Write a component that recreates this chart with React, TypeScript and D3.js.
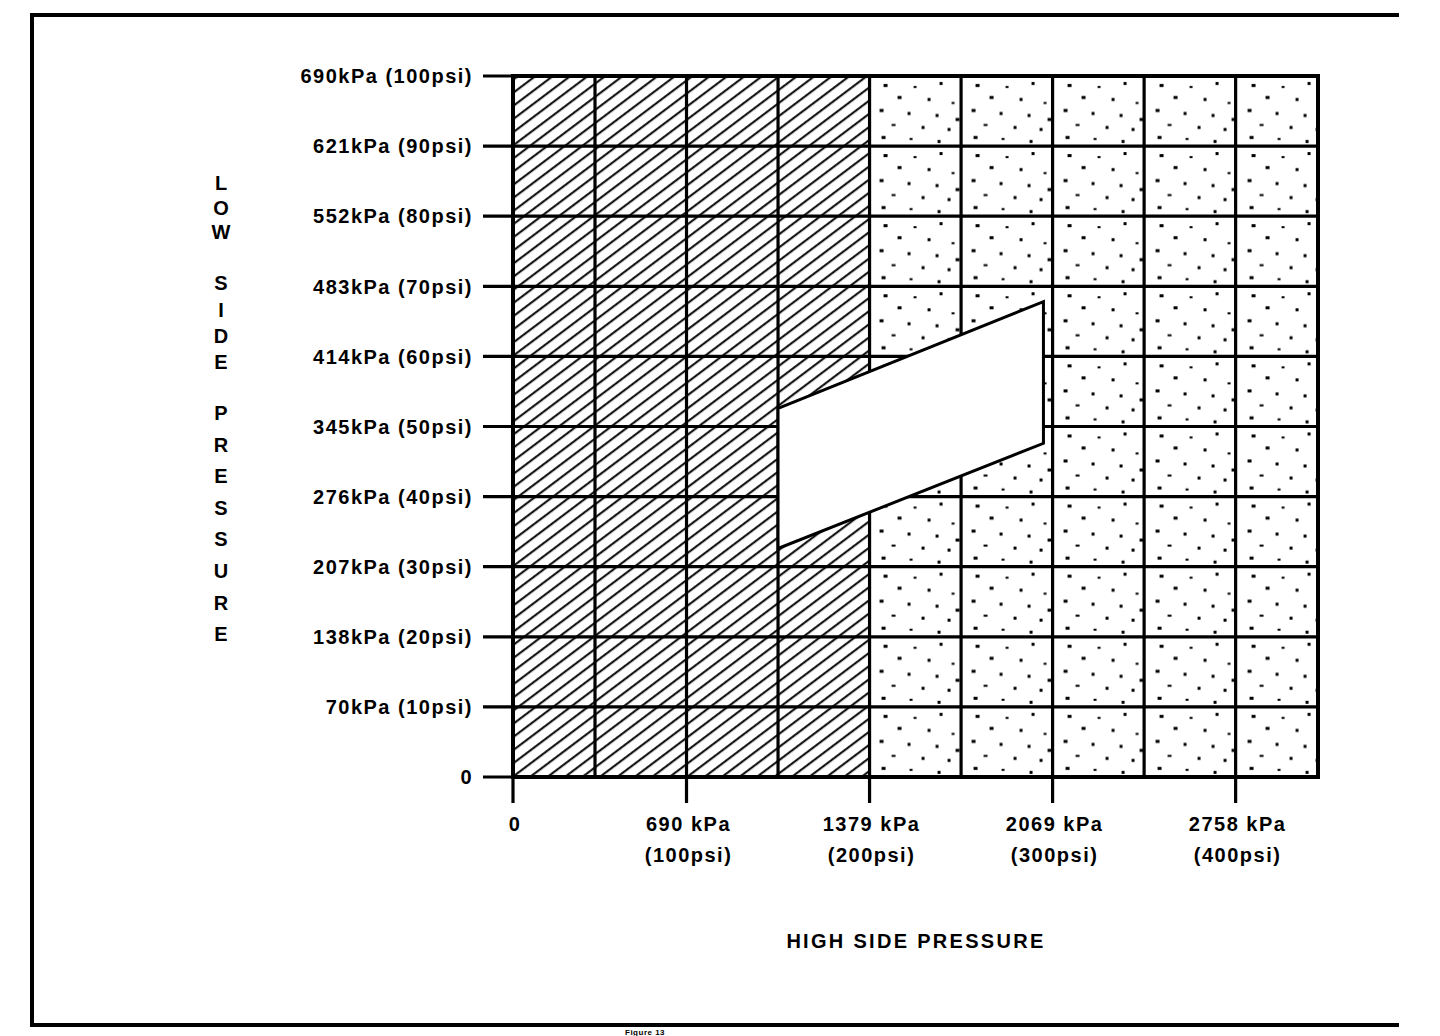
import React, { useRef, useEffect } from 'react'
import * as d3 from 'd3'

// low side ticks (psi) and their labels
const yTicksPsi = [0, 10, 20, 30, 40, 50, 60, 70, 80, 90, 100]
const yTickLabels = [
    '0',
    '70kPa (10psi)',
    '138kPa (20psi)',
    '207kPa (30psi)',
    '276kPa (40psi)',
    '345kPa (50psi)',
    '414kPa (60psi)',
    '483kPa (70psi)',
    '552kPa (80psi)',
    '621kPa (90psi)',
    '690kPa (100psi)',
]

// high side ticks (psi) and labels
const xTicksPsi = [0, 100, 200, 300, 400]
const xTickKpa = ['0', '690 kPa', '1379 kPa', '2069 kPa', '2758 kPa']
const xTickPsiLabels = ['', '(100psi)', '(200psi)', '(300psi)', '(400psi)']

// vertical grid every 50 psi, plot ends a bit past 440
const xGridPsi = [0, 50, 100, 150, 200, 250, 300, 350, 400]
const xMaxPsi = 445
const yMaxPsi = 100

// zones
const hatchZone: [number, number] = [0, 200]
const dotZone: [number, number] = [200, xMaxPsi]
// normal operating band: [high side psi, low side psi]
const normalBand: [number, number][] = [
    [150, 52.6],
    [295, 67.8],
    [295, 47.6],
    [150, 32.6],
]

const yAxisWords = ['LOW', 'SIDE', 'PRESSURE']
const xAxisTitle = 'HIGH SIDE PRESSURE'
const footer = 'Figure 13'

const W = 1440
const H = 1036

const Chart: React.FC = () => {
    const svgRef = useRef<SVGSVGElement>(null)

    useEffect(() => {
        if (!svgRef.current) return
        const svg = d3.select(svgRef.current)
        svg.selectAll('*').remove()

        // the printed grid is a little uneven: first column is narrower
        const x = d3.scaleLinear().domain([0, 50, xMaxPsi]).range([513, 595, 1318])
        const y = d3.scaleLinear().domain([0, yMaxPsi]).range([777, 76])

        const font = "'Liberation Sans', Arial, sans-serif"

        // patterns
        const defs = svg.append('defs')
        const hatch = defs
            .append('pattern')
            .attr('id', 'hatch')
            .attr('patternUnits', 'userSpaceOnUse')
            .attr('width', 20)
            .attr('height', 10.5)
            .attr('patternTransform', 'rotate(-37)')
        hatch
            .append('line')
            .attr('x1', 0)
            .attr('x2', 20)
            .attr('y1', 5)
            .attr('y2', 5)
            .attr('stroke', '#000')
            .attr('stroke-width', 2)

        const dots = defs
            .append('pattern')
            .attr('id', 'dots')
            .attr('patternUnits', 'userSpaceOnUse')
            .attr('width', 92)
            .attr('height', 70.1)
            .attr('x', x(200))
            .attr('y', y(100))
        const dotTexture = [
            [14, 8], [44, 10], [70, 6], [28, 20], [58, 22], [82, 26],
            [10, 33], [38, 36], [66, 38], [22, 48], [52, 50], [78, 52],
            [12, 60], [40, 62], [68, 64], [86, 42],
        ]
        dots.selectAll('rect')
            .data(dotTexture)
            .enter()
            .append('rect')
            .attr('x', (d) => d[0])
            .attr('y', (d) => d[1])
            .attr('width', (d, i) => (i % 3 === 0 ? 4 : 3))
            .attr('height', (d, i) => (i % 4 === 1 ? 2 : 3))
            .attr('fill', '#000')

        svg.append('rect').attr('width', W).attr('height', H).attr('fill', '#fff')

        // outer frame (left, top, bottom)
        svg.append('path')
            .attr('d', 'M1399,15 H32 V1025 H1399')
            .attr('fill', 'none')
            .attr('stroke', '#000')
            .attr('stroke-width', 4)

        // zones
        svg.append('rect')
            .attr('x', x(hatchZone[0]))
            .attr('y', y(yMaxPsi))
            .attr('width', x(hatchZone[1]) - x(hatchZone[0]))
            .attr('height', y(0) - y(yMaxPsi))
            .attr('fill', 'url(#hatch)')
        svg.append('rect')
            .attr('x', x(dotZone[0]))
            .attr('y', y(yMaxPsi))
            .attr('width', x(dotZone[1]) - x(dotZone[0]))
            .attr('height', y(0) - y(yMaxPsi))
            .attr('fill', 'url(#dots)')

        // grid
        const g = svg.append('g').attr('stroke', '#000').attr('stroke-width', 3.2)
        g.selectAll('.hgrid')
            .data(yTicksPsi)
            .enter()
            .append('line')
            .attr('x1', x(0) - 30)
            .attr('x2', x(xMaxPsi))
            .attr('y1', (d) => y(d))
            .attr('y2', (d) => y(d))
        g.selectAll('.vgrid')
            .data(xGridPsi)
            .enter()
            .append('line')
            .attr('x1', (d) => x(d))
            .attr('x2', (d) => x(d))
            .attr('y1', y(yMaxPsi))
            .attr('y2', (d) => (xTicksPsi.includes(d) ? y(0) + 26 : y(0)))

        // plot frame
        svg.append('rect')
            .attr('x', x(0))
            .attr('y', y(yMaxPsi))
            .attr('width', x(xMaxPsi) - x(0))
            .attr('height', y(0) - y(yMaxPsi))
            .attr('fill', 'none')
            .attr('stroke', '#000')
            .attr('stroke-width', 4)

        // normal band
        svg.append('path')
            .attr('d', d3.line<[number, number]>().x((d) => x(d[0])).y((d) => y(d[1]))(normalBand) + 'Z')
            .attr('fill', '#fff')
            .attr('stroke', '#000')
            .attr('stroke-width', 3)
            .attr('stroke-linejoin', 'miter')

        const txt = svg
            .append('g')
            .attr('font-family', font)
            .attr('font-weight', 'bold')
            .attr('font-size', 20)
            .attr('letter-spacing', 1.5)
            .attr('fill', '#000')

        // y labels
        txt.selectAll('.ylab')
            .data(yTicksPsi)
            .enter()
            .append('text')
            .attr('x', x(0) - 40)
            .attr('y', (d) => y(d))
            .attr('dy', '0.36em')
            .attr('text-anchor', 'end')
            .text((d, i) => yTickLabels[i])

        // x labels
        txt.selectAll('.xlab')
            .data(xTicksPsi)
            .enter()
            .append('text')
            .attr('x', (d) => x(d) + 2)
            .attr('y', 831)
            .attr('text-anchor', 'middle')
            .text((d, i) => xTickKpa[i])
        txt.selectAll('.xlab2')
            .data(xTicksPsi)
            .enter()
            .append('text')
            .attr('x', (d) => x(d) + 2)
            .attr('y', 862)
            .attr('text-anchor', 'middle')
            .text((d, i) => xTickPsiLabels[i])

        // axis titles
        txt.append('text')
            .attr('x', 916)
            .attr('y', 948)
            .attr('text-anchor', 'middle')
            .attr('letter-spacing', 2.3)
            .text(xAxisTitle)

        // vertical title, one letter per line; each word has its own span
        const wordSpans: [number, number][] = [
            [183, 232],
            [283, 362],
            [413, 634],
        ]
        yAxisWords.forEach((word, wi) => {
            const chars = word.split('')
            const ys = d3.scalePoint<number>().domain(d3.range(chars.length)).range(wordSpans[wi])
            txt.selectAll(`.yt${wi}`)
                .data(chars)
                .enter()
                .append('text')
                .attr('x', 221)
                .attr('y', (d, i) => ys(i)!)
                .attr('dy', '0.36em')
                .attr('text-anchor', 'middle')
                .attr('letter-spacing', 0)
                .text((d) => d)
        })

        // small caption under the frame
        txt.append('text')
            .attr('x', 625)
            .attr('y', 1035)
            .attr('font-size', 8)
            .attr('letter-spacing', 0.5)
            .text(footer)
    }, [])

    return <svg ref={svgRef} width={W} height={H} style={{ position: 'absolute', left: 0, top: 0 }} />
}

export default function App() {
    return <Chart />
}
